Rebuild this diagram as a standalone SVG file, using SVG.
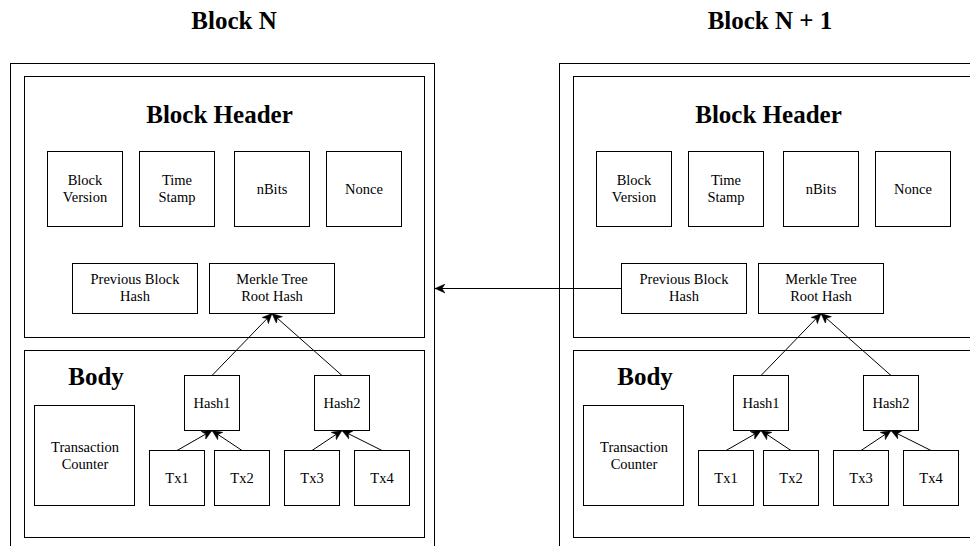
<svg xmlns="http://www.w3.org/2000/svg" width="970" height="546" viewBox="0 0 970 546">
<style>
.b{fill:#fff;stroke:#000;stroke-width:1}
.t{font-family:"Liberation Serif","Times New Roman",serif;font-size:14.5px;fill:#000;text-anchor:middle}
.h{font-family:"Liberation Serif","Times New Roman",serif;font-size:25px;font-weight:bold;fill:#000;text-anchor:middle}
.c{stroke:#000;stroke-width:1;fill:none;marker-end:url(#ar)}
</style>
<defs>
<marker id="ar" viewBox="0 0 10 10" refX="10" refY="5" markerWidth="10" markerHeight="10" markerUnits="userSpaceOnUse" orient="auto">
<path d="M0,0.5 L10,5 L0,9.5 L3,5 z" fill="#000" stroke="#000" stroke-width="0.5"/>
</marker>
</defs>
<rect width="970" height="546" fill="#fff"/>
<text class="h" x="234" y="29">Block N</text>
<text class="h" x="770" y="29">Block N + 1</text>

<g id="blockN">
<g id="n_outer"><rect class="b" x="10.5" y="63.5" width="424" height="500"/></g>
<g id="n_header"><rect class="b" x="24.5" y="76.5" width="400" height="261"/><text class="h" x="219.5" y="123">Block Header</text></g>
<g id="n_body"><rect class="b" x="24.5" y="350.5" width="400" height="187"/><text class="h" x="96" y="385">Body</text></g>
<g id="n_version"><rect class="b" x="47.5" y="151.5" width="75" height="75"/><text class="t" x="85" y="185">Block</text><text class="t" x="85" y="202">Version</text></g>
<g id="n_time"><rect class="b" x="139.5" y="151.5" width="75" height="75"/><text class="t" x="177" y="185">Time</text><text class="t" x="177" y="202">Stamp</text></g>
<g id="n_nbits"><rect class="b" x="234.5" y="151.5" width="75" height="75"/><text class="t" x="272" y="193.5">nBits</text></g>
<g id="n_nonce"><rect class="b" x="326.5" y="151.5" width="75" height="75"/><text class="t" x="364" y="193.5">Nonce</text></g>
<g id="n_prev"><rect class="b" x="72.5" y="263.5" width="125" height="50"/><text class="t" x="135" y="284">Previous Block</text><text class="t" x="135" y="301">Hash</text></g>
<g id="n_merkle"><rect class="b" x="209.5" y="263.5" width="125" height="50"/><text class="t" x="272" y="284">Merkle Tree</text><text class="t" x="272" y="301">Root Hash</text></g>
<g id="n_counter"><rect class="b" x="34.5" y="405.5" width="100" height="100"/><text class="t" x="85" y="452">Transaction</text><text class="t" x="85" y="469">Counter</text></g>
<g id="n_hash1"><rect class="b" x="184.5" y="375.5" width="55" height="55"/><text class="t" x="212" y="408">Hash1</text></g>
<g id="n_hash2"><rect class="b" x="314.5" y="375.5" width="55" height="55"/><text class="t" x="342" y="408">Hash2</text></g>
<g id="n_tx1"><rect class="b" x="149.5" y="450.5" width="55" height="55"/><text class="t" x="177" y="482.5">Tx1</text></g>
<g id="n_tx2"><rect class="b" x="214.5" y="450.5" width="55" height="55"/><text class="t" x="242" y="482.5">Tx2</text></g>
<g id="n_tx3"><rect class="b" x="284.5" y="450.5" width="55" height="55"/><text class="t" x="312" y="482.5">Tx3</text></g>
<g id="n_tx4"><rect class="b" x="354.5" y="450.5" width="55" height="55"/><text class="t" x="382" y="482.5">Tx4</text></g>
</g>

<g id="blockN1">
<g id="m_outer"><rect class="b" x="559.5" y="63.5" width="424" height="500"/></g>
<g id="m_header"><rect class="b" x="573.5" y="76.5" width="400" height="261"/><text class="h" x="768.5" y="123">Block Header</text></g>
<g id="m_body"><rect class="b" x="573.5" y="350.5" width="400" height="187"/><text class="h" x="645" y="385">Body</text></g>
<g id="m_version"><rect class="b" x="596.5" y="151.5" width="75" height="75"/><text class="t" x="634" y="185">Block</text><text class="t" x="634" y="202">Version</text></g>
<g id="m_time"><rect class="b" x="688.5" y="151.5" width="75" height="75"/><text class="t" x="726" y="185">Time</text><text class="t" x="726" y="202">Stamp</text></g>
<g id="m_nbits"><rect class="b" x="783.5" y="151.5" width="75" height="75"/><text class="t" x="821" y="193.5">nBits</text></g>
<g id="m_nonce"><rect class="b" x="875.5" y="151.5" width="75" height="75"/><text class="t" x="913" y="193.5">Nonce</text></g>
<g id="m_prev"><rect class="b" x="621.5" y="263.5" width="125" height="50"/><text class="t" x="684" y="284">Previous Block</text><text class="t" x="684" y="301">Hash</text></g>
<g id="m_merkle"><rect class="b" x="758.5" y="263.5" width="125" height="50"/><text class="t" x="821" y="284">Merkle Tree</text><text class="t" x="821" y="301">Root Hash</text></g>
<g id="m_counter"><rect class="b" x="583.5" y="405.5" width="100" height="100"/><text class="t" x="634" y="452">Transaction</text><text class="t" x="634" y="469">Counter</text></g>
<g id="m_hash1"><rect class="b" x="733.5" y="375.5" width="55" height="55"/><text class="t" x="761" y="408">Hash1</text></g>
<g id="m_hash2"><rect class="b" x="863.5" y="375.5" width="55" height="55"/><text class="t" x="891" y="408">Hash2</text></g>
<g id="m_tx1"><rect class="b" x="698.5" y="450.5" width="55" height="55"/><text class="t" x="726" y="482.5">Tx1</text></g>
<g id="m_tx2"><rect class="b" x="763.5" y="450.5" width="55" height="55"/><text class="t" x="791" y="482.5">Tx2</text></g>
<g id="m_tx3"><rect class="b" x="833.5" y="450.5" width="55" height="55"/><text class="t" x="861" y="482.5">Tx3</text></g>
<g id="m_tx4"><rect class="b" x="903.5" y="450.5" width="55" height="55"/><text class="t" x="931" y="482.5">Tx4</text></g>
</g>

<g id="connectors">
<line class="c" x1="177" y1="450.5" x2="212" y2="430.5"/>
<line class="c" x1="242" y1="450.5" x2="212" y2="430.5"/>
<line class="c" x1="312" y1="450.5" x2="342" y2="430.5"/>
<line class="c" x1="382" y1="450.5" x2="342" y2="430.5"/>
<line class="c" x1="212" y1="375.5" x2="272" y2="313.5"/>
<line class="c" x1="342" y1="375.5" x2="272" y2="313.5"/>
<line class="c" x1="726" y1="450.5" x2="761" y2="430.5"/>
<line class="c" x1="791" y1="450.5" x2="761" y2="430.5"/>
<line class="c" x1="861" y1="450.5" x2="891" y2="430.5"/>
<line class="c" x1="931" y1="450.5" x2="891" y2="430.5"/>
<line class="c" x1="761" y1="375.5" x2="821" y2="313.5"/>
<line class="c" x1="891" y1="375.5" x2="821" y2="313.5"/>
<line class="c" x1="621.5" y1="288.5" x2="435" y2="288.5"/>
</g>
</svg>
